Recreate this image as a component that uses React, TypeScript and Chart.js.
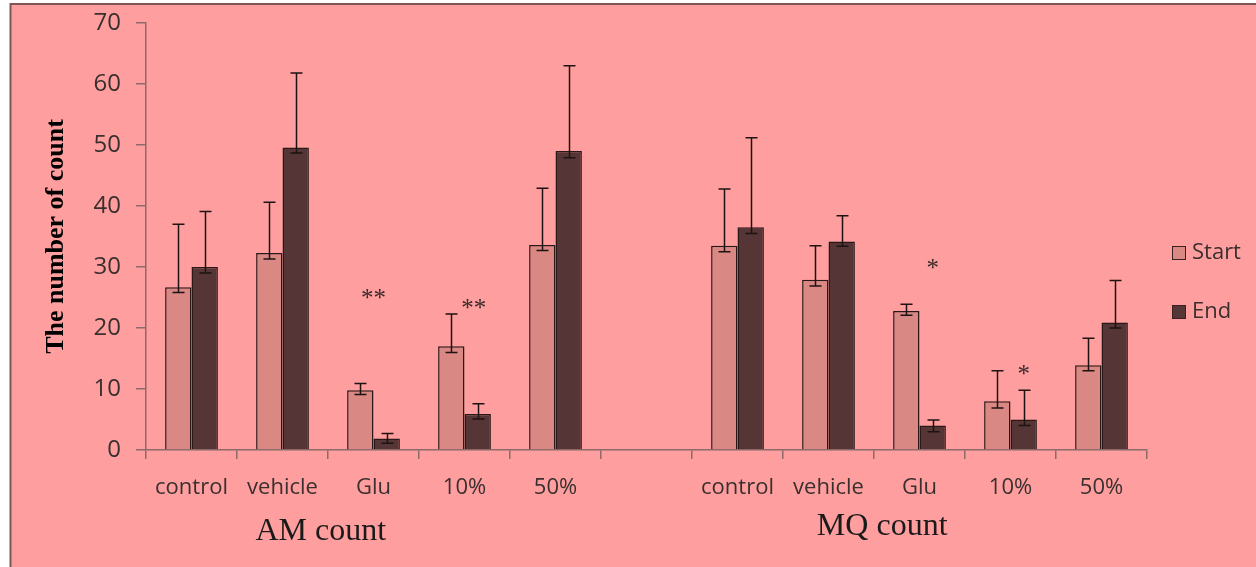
import React, { useEffect, useRef } from 'react';
import { Chart, registerables } from 'chart.js';

Chart.register(...registerables);

// ---- data ----
const categories = ['control', 'vehicle', 'Glu', '10%', '50%', '', 'control', 'vehicle', 'Glu', '10%', '50%'];
const seriesNames = ['Start', 'End'];
const startValues = [26.7, 32.3, 9.8, 17.0, 33.6, null, 33.5, 27.9, 22.8, 8.0, 13.9];
const endValues = [30.0, 49.6, 1.9, 5.9, 49.0, null, 36.5, 34.2, 4.0, 5.0, 20.9];
const startErrPlus = [10.3, 8.3, 1.1, 5.3, 9.3, null, 9.3, 5.6, 1.1, 5.0, 4.4];
const startErrMinus = [0.9, 1.0, 0.7, 1.0, 0.9, null, 1.0, 1.0, 0.7, 1.1, 0.9];
const endErrPlus = [9.1, 12.2, 0.8, 1.7, 14.0, null, 14.7, 4.2, 0.9, 4.8, 6.9];
const endErrMinus = [1.0, 0.9, 0.8, 0.8, 1.1, null, 1.0, 0.8, 1.0, 1.0, 0.9];
const yTickValues = [0, 10, 20, 30, 40, 50, 60, 70];
const groupLabels = ['AM count', 'MQ count'];
const sigCategory = [2, 3, 8, 9];
const sigText = ['**', '**', '*', '*'];
const sigValue = [25.0, 23.3, 29.8, 12.5];
const yTitle = 'The number of count';

// ---- styles ----
const PAGE_BG = '#ffffff';
const PLOT_BG = '#ff9e9e';
const FRAME = '#7d5656';
const AXIS = '#8c6a6a';
const TEXT = '#3a2f2f';
const START_COLOR = '#d98884';
const END_COLOR = '#553535';
const BAR_BORDER = '#2a1818';
const SANS = '"Open Sans", "Noto Sans", sans-serif';
const SERIF = '"Liberation Serif", "DejaVu Serif", serif';

const errPlus = [startErrPlus, endErrPlus];
const errMinus = [startErrMinus, endErrMinus];

const decorPlugin = {
  id: 'decor',
  beforeDraw(chart: any) {
    const { ctx, width, height } = chart;
    ctx.save();
    ctx.fillStyle = PAGE_BG;
    ctx.fillRect(0, 0, width, height);
    ctx.fillStyle = PLOT_BG;
    ctx.fillRect(11, 5, width - 11, height - 5);
    ctx.strokeStyle = FRAME;
    ctx.lineWidth = 2;
    ctx.beginPath();
    ctx.moveTo(10.5, height);
    ctx.lineTo(10.5, 4);
    ctx.lineTo(width, 4);
    ctx.stroke();
    ctx.restore();
  },
  afterDatasetsDraw(chart: any) {
    const { ctx } = chart;
    const y = chart.scales.y;
    const x = chart.scales.x;
    ctx.save();
    // error bars
    ctx.strokeStyle = '#1e1212';
    ctx.lineWidth = 1.5;
    chart.data.datasets.forEach((ds: any, di: number) => {
      const meta = chart.getDatasetMeta(di);
      meta.data.forEach((bar: any, i: number) => {
        const v = ds.data[i];
        if (v == null) return;
        const px = Math.round(bar.x) + 0.5;
        const yTop = y.getPixelForValue(v + errPlus[di][i]);
        const yBot = y.getPixelForValue(v - errMinus[di][i]);
        ctx.beginPath();
        ctx.moveTo(px, yTop);
        ctx.lineTo(px, yBot);
        ctx.moveTo(px - 6, yTop);
        ctx.lineTo(px + 6, yTop);
        ctx.moveTo(px - 6, yBot);
        ctx.lineTo(px + 6, yBot);
        ctx.stroke();
      });
    });
    // significance marks
    ctx.fillStyle = '#3a2a2a';
    ctx.font = `25px ${SERIF}`;
    ctx.textAlign = 'center';
    ctx.textBaseline = 'alphabetic';
    const endMeta = chart.getDatasetMeta(1);
    sigCategory.forEach((c, k) => {
      const px = k === 0 ? x.getPixelForValue(c) : endMeta.data[c].x - (k === 1 ? 4 : 0);
      const py = y.getPixelForValue(sigValue[k]) + 8;
      ctx.fillText(sigText[k], px, py);
    });
    ctx.restore();
  },
  afterDraw(chart: any) {
    const { ctx } = chart;
    const x = chart.scales.x;
    ctx.save();
    // group labels
    ctx.fillStyle = '#1a1a1a';
    ctx.font = `32px ${SERIF}`;
    ctx.textAlign = 'center';
    ctx.textBaseline = 'alphabetic';
    const slot = x.getPixelForValue(1) - x.getPixelForValue(0);
    ctx.fillText(groupLabels[0], x.getPixelForValue(1) + slot * 0.42, 540);
    ctx.fillText(groupLabels[1], x.getPixelForValue(7) + slot * 0.59, 535);
    // legend
    ctx.font = `22px ${SANS}`;
    ctx.textAlign = 'left';
    ctx.textBaseline = 'middle';
    const colors = [START_COLOR, END_COLOR];
    const legendY = [253, 312];
    chart.data.datasets.forEach((ds: any, i: number) => {
      const cy = legendY[i];
      ctx.fillStyle = colors[i];
      ctx.fillRect(1172, cy - 7, 14, 14);
      ctx.strokeStyle = '#3a2020';
      ctx.lineWidth = 1;
      ctx.strokeRect(1172.5, cy - 6.5, 13, 13);
      ctx.fillStyle = TEXT;
      ctx.fillText(ds.label, 1192, cy);
    });
    ctx.restore();
  },
};

export default function App() {
  const canvasRef = useRef<HTMLCanvasElement | null>(null);

  useEffect(() => {
    if (!canvasRef.current) return;
    const chart = new Chart(canvasRef.current, {
      type: 'bar',
      data: {
        labels: categories,
        datasets: [
          {
            label: seriesNames[0],
            data: startValues,
            backgroundColor: START_COLOR,
            borderColor: BAR_BORDER,
            borderWidth: 1.5,
            categoryPercentage: 0.58,
            barPercentage: 1.0,
          },
          {
            label: seriesNames[1],
            data: endValues,
            backgroundColor: END_COLOR,
            borderColor: BAR_BORDER,
            borderWidth: 1.5,
            categoryPercentage: 0.58,
            barPercentage: 1.0,
          },
        ],
      },
      options: {
        animation: false,
        responsive: true,
        maintainAspectRatio: false,
        layout: { padding: { top: 23, right: 109, bottom: 0, left: 0 } },
        plugins: {
          legend: { display: false },
          tooltip: { enabled: false },
        },
        scales: {
          x: {
            afterFit: (s: any) => {
              s.height = 117;
            },
            grid: {
              offset: true,
              drawOnChartArea: false,
              drawTicks: true,
              tickLength: 9,
              color: AXIS,
              lineWidth: 1.5,
            },
            border: { display: true, color: AXIS, width: 1.5 },
            ticks: {
              color: TEXT,
              font: { family: SANS, size: 22 },
              padding: 16,
              autoSkip: false,
              maxRotation: 0,
            },
          },
          y: {
            min: 0,
            max: 70,
            afterFit: (s: any) => {
              s.width = 146;
              s.paddingTop = 0;
              s.paddingBottom = 0;
            },
            afterBuildTicks: (s: any) => {
              s.ticks = yTickValues.map((v) => ({ value: v }));
            },
            grid: {
              drawOnChartArea: false,
              drawTicks: true,
              tickLength: 10,
              color: AXIS,
              lineWidth: 1.5,
            },
            border: { display: true, color: AXIS, width: 1.5 },
            ticks: {
              color: TEXT,
              font: { family: SANS, size: 24 },
              padding: 15,
            },
            title: {
              display: true,
              text: yTitle,
              color: '#000000',
              font: { family: SERIF, size: 26, weight: 'bold' },
              padding: { top: 41, bottom: 0 },
            },
          },
        },
      },
      plugins: [decorPlugin],
    });
    return () => chart.destroy();
  }, []);

  return (
    <div style={{ position: 'absolute', left: 0, top: 0, width: 1256, height: 567 }}>
      <canvas ref={canvasRef} />
    </div>
  );
}
